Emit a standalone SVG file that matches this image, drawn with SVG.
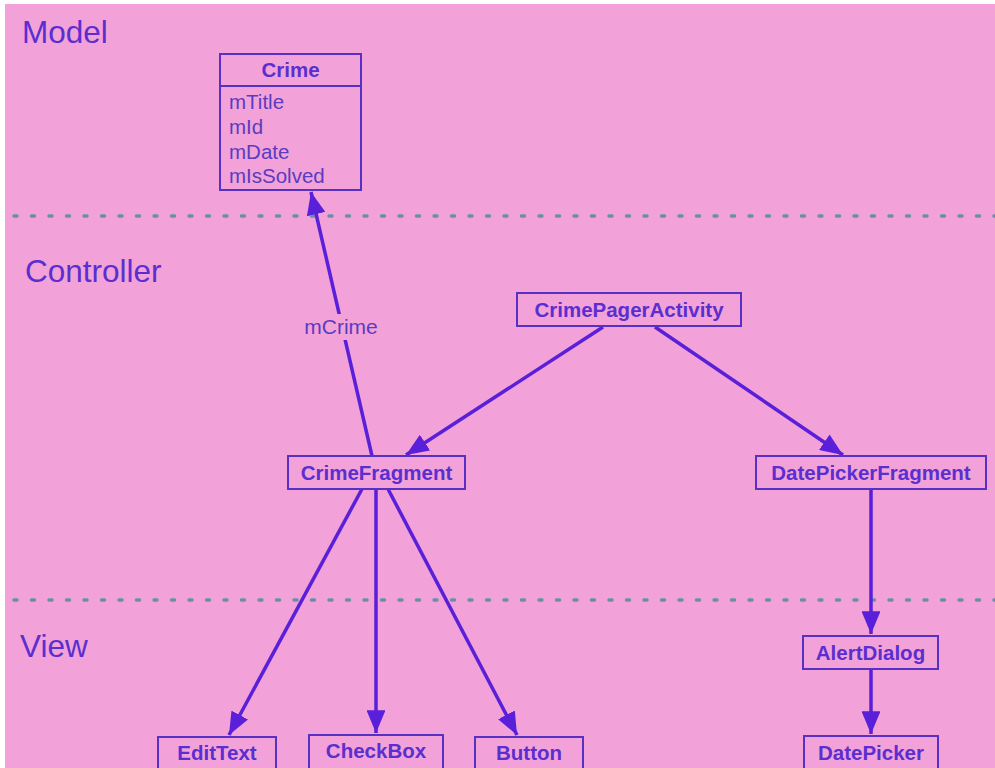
<svg xmlns="http://www.w3.org/2000/svg" width="995" height="768" viewBox="0 0 995 768">
  <style>
    .bg { fill: #f2a2d8; }
    .layer { font-family: "Liberation Sans", Arial, sans-serif; font-size: 31.5px; fill: #5a2ecf; }
    .box { fill: none; stroke: #5a2fc4; stroke-width: 2; }
    .name { font-family: "Liberation Sans", Arial, sans-serif; font-size: 20.5px; font-weight: bold; fill: #5a2ecf; text-anchor: middle; }
    .field { font-family: "Liberation Sans", Arial, sans-serif; font-size: 20.5px; fill: #5a3cc0; }
    .sep { stroke: #6a8fa8; stroke-width: 3.5; stroke-linecap: round; stroke-dasharray: 3 14.5; fill: none; }
    .edge { stroke: #5a1fd8; stroke-width: 3.5; fill: none; marker-end: url(#head); }
    .elabel { font-family: "Liberation Sans", Arial, sans-serif; font-size: 21px; fill: #5a3cc0; text-anchor: middle; }
  </style>
  <defs>
    <marker id="head" viewBox="0 0 12 10" refX="12" refY="5" markerWidth="6.5" markerHeight="5.4" markerUnits="strokeWidth" orient="auto">
      <path d="M0,0 L12,5 L0,10 z" fill="#5a1fd8"/>
    </marker>
  </defs>

  <rect x="0" y="0" width="995" height="768" fill="#ffffff"/>
  <rect class="bg" x="5" y="4" width="990" height="764"/>

  <!-- layer separators -->
  <g id="separators">
    <line class="sep" x1="14" y1="216" x2="995" y2="216"/>
    <line class="sep" x1="14" y1="600" x2="995" y2="600"/>
  </g>

  <!-- layer titles -->
  <g id="layers">
    <text class="layer" x="22" y="43">Model</text>
    <text class="layer" x="25" y="282">Controller</text>
    <text class="layer" x="20" y="657">View</text>
  </g>

  <!-- connectors -->
  <g id="connectors">
    <line class="edge" x1="372" y1="456" x2="311" y2="192"/>
    <rect x="298" y="314" width="86" height="26" class="bg"/>
    <text class="elabel" x="341" y="334">mCrime</text>
    <line class="edge" x1="603" y1="327" x2="406" y2="455"/>
    <line class="edge" x1="655" y1="327" x2="843" y2="455"/>
    <line class="edge" x1="362" y1="489" x2="229" y2="735"/>
    <line class="edge" x1="376" y1="489" x2="376" y2="733"/>
    <line class="edge" x1="388" y1="489" x2="517" y2="735"/>
    <line class="edge" x1="871" y1="489" x2="871" y2="634"/>
    <line class="edge" x1="871" y1="669" x2="871" y2="734"/>
  </g>

  <!-- model class -->
  <g id="crime">
    <rect class="box" x="220" y="54" width="141" height="136"/>
    <line class="box" x1="220" y1="86" x2="361" y2="86"/>
    <text class="name" x="290.5" y="77">Crime</text>
    <text class="field" x="229" y="109">mTitle</text>
    <text class="field" x="229" y="134">mId</text>
    <text class="field" x="229" y="159">mDate</text>
    <text class="field" x="229" y="183">mIsSolved</text>
  </g>

  <g id="crimePagerActivity">
    <rect class="box" x="517" y="293" width="224" height="33"/>
    <text class="name" x="629" y="317">CrimePagerActivity</text>
  </g>

  <g id="crimeFragment">
    <rect class="box" x="288" y="456" width="177" height="33"/>
    <text class="name" x="376.5" y="480">CrimeFragment</text>
  </g>

  <g id="datePickerFragment">
    <rect class="box" x="756" y="456" width="230" height="33"/>
    <text class="name" x="871" y="480">DatePickerFragment</text>
  </g>

  <g id="alertDialog">
    <rect class="box" x="803" y="636" width="135" height="33"/>
    <text class="name" x="870.5" y="660">AlertDialog</text>
  </g>

  <g id="datePicker">
    <rect class="box" x="804" y="736" width="134" height="40"/>
    <text class="name" x="871" y="760">DatePicker</text>
  </g>

  <g id="editText">
    <rect class="box" x="158" y="737" width="118" height="40"/>
    <text class="name" x="217" y="760">EditText</text>
  </g>

  <g id="checkBox">
    <rect class="box" x="309" y="735" width="134" height="40"/>
    <text class="name" x="376" y="758">CheckBox</text>
  </g>

  <g id="button">
    <rect class="box" x="475" y="737" width="108" height="40"/>
    <text class="name" x="529" y="760">Button</text>
  </g>
</svg>
